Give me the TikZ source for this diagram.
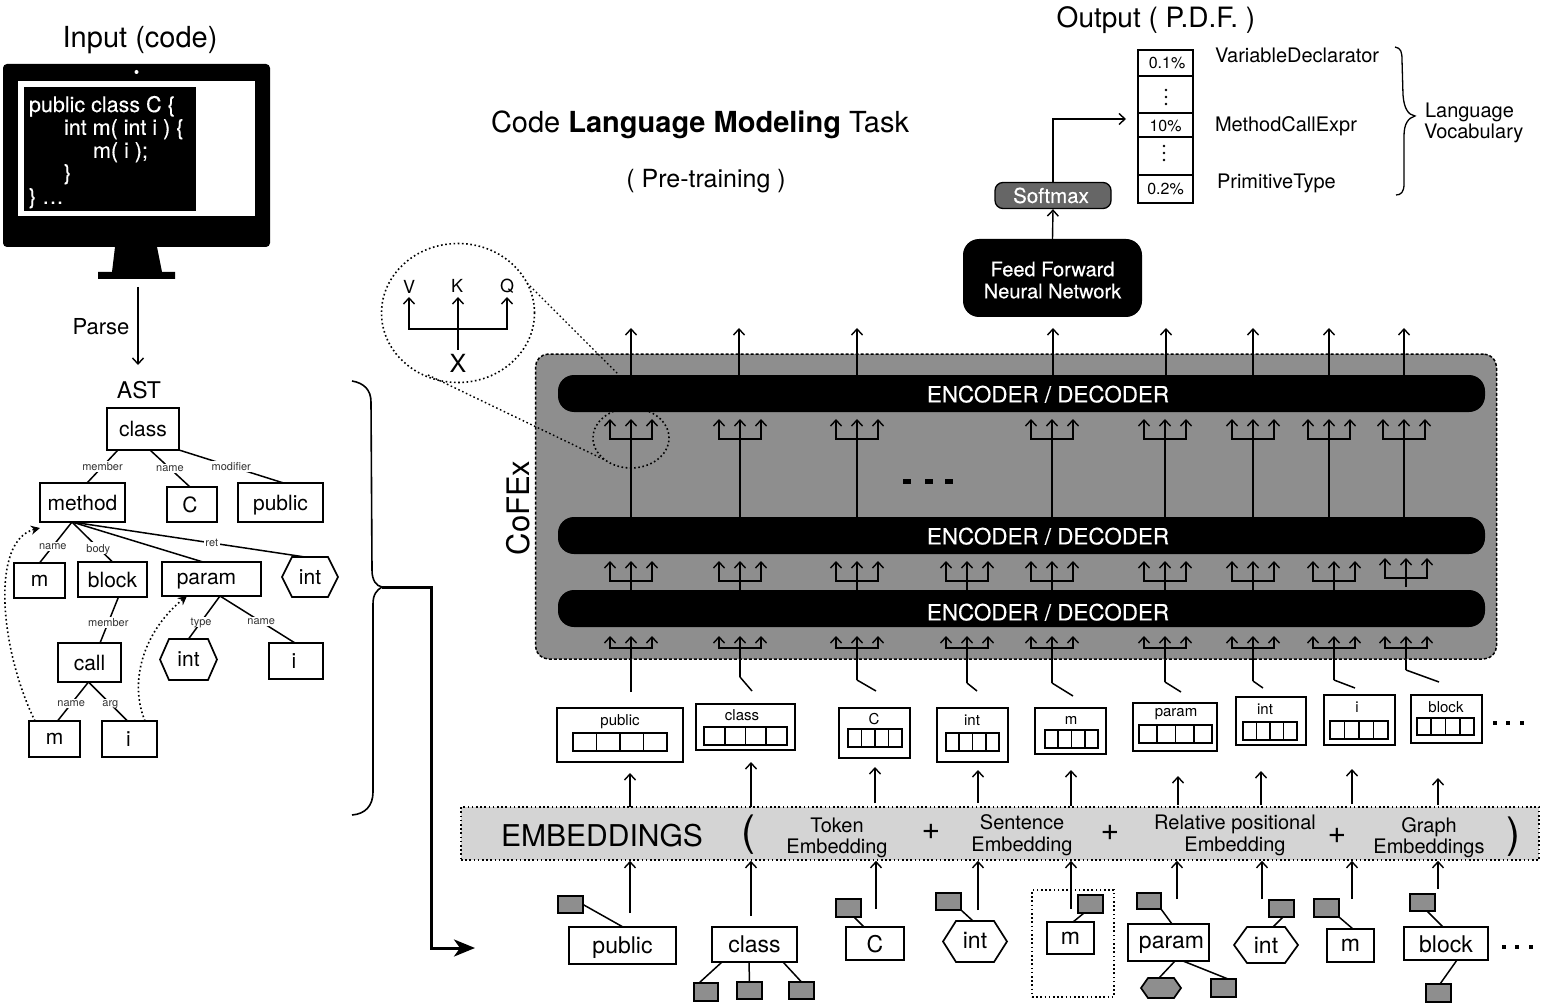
\documentclass[tikz,border=0pt]{standalone}
\usepackage{fontspec}
\setmainfont{TeX Gyre Heros}
\newfontfamily\whitefont[FakeBold=0.35]{TeX Gyre Heros}
\usetikzlibrary{arrows.meta,shapes.geometric,calc}
\newcommand\fs[1]{\fontsize{#1}{#1}\selectfont}
\definecolor{panelgray}{HTML}{8E8E8E}
\definecolor{bandgray}{HTML}{D4D4D4}
\definecolor{softgray}{HTML}{666666}
\definecolor{labelgray}{HTML}{333333}
\tikzset{
  x=1pt,y=-1pt,
  lw/.style={line width=1.7pt},
  nbox/.style={draw=black,lw,fill=none,inner sep=0pt,outer sep=0pt,text depth=0pt,font=\fs{#1}},
  nbox/.default=21,
  hexn/.style={inner sep=0pt,outer sep=0pt,text depth=0pt,font=\fs{#1}},
  hexn/.default=21,
  graybox/.style={draw=black,line width=1.7pt,fill=panelgray,inner sep=0pt,outer sep=0pt},
  txt/.style={inner sep=0pt,outer sep=0pt,text depth=0pt,font=\fs{#1}},
  arr/.style={line width=1.4pt,-{Straight Barb[length=6pt,width=11pt]}},
  darr/.style={line width=1.4pt,{Straight Barb[length=6pt,width=11pt]}-{Straight Barb[length=6pt,width=11pt]}},
  ln/.style={line width=1.5pt},
  elab/.style={fill=white,inner sep=1.5pt,text depth=0pt,text=labelgray,font=\fs{11}},
  dots/.style={line width=1.6pt,dash pattern=on 1.6pt off 2.6pt},
  dotarr/.style={line width=1.6pt,dash pattern=on 1.6pt off 2.6pt,-{Stealth[length=9pt,width=9pt]}},
  encbar/.style={fill=black,rounded corners=16pt,inner sep=0pt,outer sep=0pt,minimum width=927pt,minimum height=37pt},
}
% name x1 y1 x2 y2 size text
\newcommand\bx[7]{\node[nbox=#6,minimum width={#4-#2},minimum height={#5-#3}] (#1) at ({(#2+#4)/2},{(#3+#5)/2}) {#7};}
% name x1 y1 x2 y2 chamfer fill size text
\newcommand\hx[9]{\node[hexn=#8,minimum width={#4-#2},minimum height={#5-#3}] (#1) at ({(#2+#4)/2},{(#3+#5)/2}) {#9};
  \draw[lw,fill=#7] (#1.west) -- ([xshift=#6pt]#1.north west) -- ([xshift=-#6pt]#1.north east) -- (#1.east) -- ([xshift=-#6pt]#1.south east) -- ([xshift=#6pt]#1.south west) -- cycle;}
\newcommand\sq[5]{\node[graybox,minimum width={#4-#2},minimum height={#5-#3}] (#1) at ({(#2+#4)/2},{(#3+#5)/2}) {};}
% a dx b dx pos label
\newcommand\tedge[6]{\draw[ln] ([xshift=#2pt]#1.south) -- node[elab,pos=#5] {#6} ([xshift=#4pt]#3.north);}
\newcommand\tedgeN[4]{\draw[ln] ([xshift=#2pt]#1.south) -- ([xshift=#4pt]#3.north);}
% x tip bar start
\newcommand\fork[4]{\draw[arr] #4 -- (#1,#2);\draw[darr] (#1-21,#2) -- (#1-21,#3) -- (#1+21,#3) -- (#1+21,#2);}
\newcommand\vdotsat[2]{\fill (#1,#2-7) circle (1.4pt) (#1,#2) circle (1.4pt) (#1,#2+7) circle (1.4pt);}
\begin{document}
\begin{tikzpicture}
\useasboundingbox (0,0) rectangle (1542,1008);
% ---------- monitor
\node[txt=29] (inputT) at (140,37) {Input (code)};
\fill[rounded corners=4pt] (3,64) rectangle (270,247);
\fill (115,247) -- (157,247) -- (162,272) -- (175,272) -- (175,279) -- (98,279) -- (98,272) -- (112,272) -- cycle;
\fill[white] (136.5,72) circle (2pt);
\fill[white] (18,81) rectangle (255,216);
\fill[black] (24,87) rectangle (196,211);
\node[txt=21.5,text=white,anchor=west] (c1) at (29,104) {\whitefont public class C \{};
\node[txt=21.5,text=white,anchor=west] (c2) at (64,127) {\whitefont int m( int i ) \{};
\node[txt=21.5,text=white,anchor=west] (c3) at (93,150) {\whitefont m( i );};
\node[txt=21.5,text=white,anchor=west] (c4) at (64,172) {\whitefont \}};
\node[txt=21.5,text=white,anchor=west] (c5) at (29,196) {\whitefont \} \dots};
\coordinate (parseA) at (138,287);
\coordinate (parseB) at (138,365);
\draw[arr] (parseA) -- (parseB);
\node[txt=22] (parseT) at (101,326) {Parse};
\node[txt=23] (astT) at (139,390) {AST};
% ---------- AST
\bx{aclass}{107}{408}{179}{450}{21}{class}
\bx{amethod}{40}{483}{125}{522}{21}{method}
\bx{aC}{167}{487}{217}{522}{21}{C\kern4pt}
\bx{apublic}{238}{483}{323}{522}{21}{public}
\bx{am}{14}{563}{65}{598}{21}{m}
\bx{ablock}{78}{562}{147}{597}{21}{block}
\bx{aparam}{162}{562}{261}{596}{21}{param\kern10pt}
\hx{aint}{282}{557}{338}{597}{10}{none}{21}{int}
\bx{acall}{58}{643}{121}{682}{21}{call}
\hx{aintb}{160}{639}{217}{680}{9}{none}{21}{int}
\bx{ai}{269}{643}{323}{679}{21}{i\kern4pt}
\bx{amb}{29}{721}{80}{757}{21}{m}
\bx{aib}{102}{721}{157}{757}{21}{i\kern2pt}
\tedge{aclass}{-25}{amethod}{4.5}{.5}{member}
\tedge{aclass}{7}{aC}{-2}{.5}{name}
\tedge{aclass}{36}{apublic}{3}{.5}{modifier}
\tedge{amethod}{-10.5}{am}{0}{.59}{name}
\tedge{amethod}{-10.5}{ablock}{0}{.65}{body}
\tedgeN{amethod}{-10.5}{aparam}{-8.5}
\tedge{amethod}{-10.5}{aint}{-5}{.6}{ret}
\tedge{ablock}{6}{acall}{10.5}{.55}{member}
\tedge{aparam}{8.5}{aintb}{0}{.6}{type}
\tedge{aparam}{8.5}{ai}{-1}{.55}{name}
\tedge{acall}{-1}{amb}{3}{.56}{name}
\tedge{acall}{-1}{aib}{-2}{.56}{arg}
\draw[dotarr] ([xshift=6pt]amb.north west) .. controls (0,650) and (-10,540) .. ([yshift=-6pt]amethod.south west);
\draw[dotarr] ([xshift=43pt]aib.north west) .. controls (128,680) and (145,630) .. ([xshift=25pt]aparam.south west);
% ---------- big brace and arrow
\coordinate (braceTip) at (382,587);
\coordinate (bigEnd) at (475,948);
\draw[line width=1.6pt] (352,381) .. controls (364,383) and (371,390) .. (371,402) -- (372,570) .. controls (372,580) and (376,586) .. (braceTip);
\draw[line width=1.6pt] (braceTip) .. controls (377,590) and (373,594) .. (373,604) -- (373,792) .. controls (373,806) and (365,814) .. (352,815);
\draw[line width=3pt,-{Stealth[length=21pt,width=17pt,inset=6pt]}] (braceTip) -- (431,587) -- (431,948) -- (bigEnd);
% ---------- titles
\node[txt=29] (title) at (700,122) {Code \textbf{Language Modeling} Task};
\node[txt=25] (pre) at (706,178) {( Pre-training )};
% ---------- CoFEx panel
\node[draw=black,fill=panelgray,line width=1.5pt,dash pattern=on 3pt off 2pt,rounded corners=13pt,minimum width=961pt,minimum height=305pt,inner sep=0pt] (panel) at (1016,506.5) {};
\node[txt=31,rotate=90] (cofex) at (518,508) {CoFEx};
\node[encbar] (enca) at (1021.5,393.5) {};
\node[encbar] (encb) at (1021.5,535.5) {};
\node[encbar] (encc) at (1021.5,608.5) {};
\node[txt=22.4,text=white] (encaT) at (1048,394) {\whitefont ENCODER / DECODER};
\node[txt=22.4,text=white] (encbT) at (1048,536) {\whitefont ENCODER / DECODER};
\node[txt=22.4,text=white] (enccT) at (1048,612) {\whitefont ENCODER / DECODER};
% top outputs and top forks
\foreach \x in {631,739,857,1053,1166,1253,1329,1404}
  {\coordinate (o\x) at (\x,328);\draw[arr] (enca.north -| o\x) -- (o\x);}
\foreach \x in {631,740,857,1052,1165,1253,1329,1404}
  {\coordinate (f\x) at (\x,517);\fork{\x}{419}{439}{(f\x)}}
% middle forks
\foreach \x in {631,740,857,967,1052,1165,1253,1334}
  {\coordinate (g\x) at (\x,590);\fork{\x}{561}{581}{(g\x)}}
\coordinate (g1406) at (1406,587);\fork{1406}{558}{578}{(g1406)}
% bottom forks with their elbows
\foreach \x/\ey/\ex/\ez in {631/692/631/692,740/677/752/691,857/680/876/691,967/683/977/691,1052/683/1073/696,1165/682/1181/692,1253/681/1263/688,1334/680/1355/688,1406/670/1439/682}
  {\coordinate (h\x) at (\ex,\ez);\coordinate (k\x) at (\x,\ey);
   \draw[ln] (h\x) -- (k\x);\fork{\x}{636}{648}{(k\x)}}
% ellipsis in panel
\foreach \x in {907,929,949} \fill (\x-4,478.5) rectangle (\x+4,484);
% ---------- callout
\node[draw=black,ellipse,dots,minimum width=153pt,minimum height=139pt,inner sep=0pt] (bigell) at (458,313) {};
\node[draw=black,ellipse,dots,minimum width=76pt,minimum height=60pt,inner sep=0pt] (smallell) at (631,438) {};
\draw[dots,line width=1.4pt] (527,283) -- (619,375);
\draw[dots,line width=1.4pt] (428,375) -- (605,460);
\node[txt=18] (vT) at (409,287) {V};
\node[txt=18] (kT) at (457,286) {K};
\node[txt=18] (qT) at (507,286) {Q};
\node[txt=25] (xT) at (458,363) {X};
\draw[darr] (vT.south |- 0,297) -- (vT.south |- 0,329) -- (qT.south |- 0,329) -- (qT.south |- 0,297);
\draw[arr] (xT.north) ++(0,-4) -- (458,297);
% ---------- output
\node[txt=28] (outT) at (1156,17) {Output ( P.D.F. )};
\bx{ta}{1138}{50}{1193}{76}{16}{\hspace{3pt}0.1\%}
\bx{tb}{1138}{76}{1193}{113}{16}{}
\bx{tc}{1138}{113}{1193}{137}{16}{\raisebox{-2pt}{10\%}}
\bx{td}{1138}{137}{1193}{175}{16}{}
\bx{te}{1138}{175}{1193}{203}{16}{0.2\%}
\vdotsat{1166}{97}
\vdotsat{1164}{153}
\node[txt=20,anchor=west] (vd) at (1215,55) {VariableDeclarator};
\node[txt=20,anchor=west] (mc) at (1215,124) {MethodCallExpr};
\node[txt=20,anchor=west] (pt) at (1217,181) {PrimitiveType};
\draw[line width=1.3pt] (1395,47) .. controls (1401,48) and (1402,52) .. (1402,60) -- (1403,95) .. controls (1404,108) and (1408,115) .. (1415,116) .. controls (1408,118) and (1404,124) .. (1404,136) -- (1404,184) .. controls (1404,192) and (1401,195) .. (1396,195);
\node[txt=20,anchor=west] (lang) at (1425,110) {Language};
\node[txt=20,anchor=west] (voc) at (1424,131) {Vocabulary};
\node[draw=black,fill=softgray,line width=1.3pt,rounded corners=8pt,minimum width=116pt,minimum height=26pt,inner sep=0pt,text=white,font=\fs{20.5}] (soft) at (1053,195.5) {\whitefont Softmax\kern4pt};
\node[fill=black,rounded corners=16pt,minimum width=179pt,minimum height=78pt,inner sep=0pt] (ffnn) at (1052.5,278) {};
\node[txt=20,text=white] (ffa) at (1052.5,269) {\whitefont Feed Forward};
\node[txt=20,text=white] (ffb) at (1052.5,291) {\whitefont Neural Network};
\draw[arr] (ffnn.north) -- (soft.south);
\coordinate (pdfIn) at (1126,119);
\draw[arr] (soft.north) -- (soft.north |- pdfIn) -- (pdfIn);
% ---------- embedding vectors
\foreach \n/\a/\b/\c/\d/\t/\lx/\ly/\e/\f/\g/\h in {
  p/557/708/683/762/public/620/720/573/733/667/751,
  c/696/704/795/750/class/742/715/704/727/787/745,
  k/839/708/910/758/C/874/719/848/729/902/747,
  t/937/708/1008/762/int/972/720/946/733/999/751,
  m/1035/708/1106/754/m/1071/720/1045/730/1098/748,
  r/1133/703/1217/751/param/1176/712/1139/725/1212/743,
  u/1236/697/1306/745/int/1265/709/1243/722/1297/740,
  i/1324/695/1395/745/i/1357/707/1330/721/1388/739,
  b/1411/695/1482/743/block/1446/707/1417/718/1474/735}{
  \bx{ev\n}{\a}{\b}{\c}{\d}{15}{}
  \node[txt=15] (evt\n) at (\lx,\ly) {\t};
  \bx{evc\n}{\e}{\f}{\g}{\h}{15}{}
  \draw[lw] ({\e+(\g-\e)*.25},\f) -- ({\e+(\g-\e)*.25},\h) ({\e+(\g-\e)*.5},\f) -- ({\e+(\g-\e)*.5},\h) ({\e+(\g-\e)*.75},\f) -- ({\e+(\g-\e)*.75},\h);
}
\foreach \x in {1495,1508,1522} \fill (\x-1.8,721.2) rectangle (\x+1.8,724.8);
% ---------- embeddings band
\node[fill=bandgray,draw=black,dots,minimum width=1078pt,minimum height=53pt,inner sep=0pt] (band) at (1000,833.5) {};
\node[txt=30] (embT) at (602,835) {EMBEDDINGS};
\node[txt=42] (lp) at (748,830) {(};
\node[txt=42] (rp) at (1513,832) {)};
\node[txt=20] (t1a) at (837,825) {Token};
\node[txt=20] (t1b) at (837,846) {Embedding};
\node[txt=32] (pl1) at (931,832) {+};
\node[txt=20] (t2a) at (1022,822) {Sentence};
\node[txt=20] (t2b) at (1022,844) {Embedding};
\node[txt=32] (pl2) at (1110,833) {+};
\node[txt=20] (t3a) at (1235,822) {Relative positional};
\node[txt=20] (t3b) at (1235,844) {Embedding};
\node[txt=32] (pl3) at (1337,836) {+};
\node[txt=20] (t4a) at (1429,825) {Graph};
\node[txt=20] (t4b) at (1429,846) {Embeddings};
% arrows band -> vectors
\foreach \x/\tip/\s in {630/773/807,751/762/807,875/767/803,978/770/803,1071/770/806,1178/776/805,1261/771/805,1352/769/804,1438/778/805}
  {\coordinate (v\x) at (\x,\tip);\coordinate (w\x) at (\x,\s);\draw[arr] (w\x) -- (v\x);}
% arrows tokens -> band
\foreach \x/\s in {630/913,751/916,876/909,978/910,1071/909,1177/899,1262/899,1352/899,1438/889}
  {\coordinate (z\x) at (\x,\s);\draw[arr] (z\x) -- (band.south -| z\x);}
% ---------- token row
\bx{bpub}{569}{927}{676}{964}{23}{public}
\sq{bpubs}{558}{896}{583}{913}
\draw[ln] (bpubs.east) -- ([xshift=.5pt]bpub.north);
\bx{bcla}{712}{927}{797}{962}{23}{class}
\sq{bclaa}{694}{983}{718}{1001}
\sq{bclab}{737}{982}{762}{999}
\sq{bclac}{789}{982}{814}{999}
\draw[ln] ([xshift=-32.5pt]bcla.south) -- ([xshift=-7pt]bclaa.north);
\draw[ln] ([xshift=-5.5pt]bcla.south) -- (bclab.north);
\draw[ln] ([xshift=28.5pt]bcla.south) -- (bclac.north);
\bx{bc}{846}{927}{904}{960}{23}{C}
\sq{bcs}{836}{899}{861}{917}
\draw[ln] ([xshift=5.5pt]bcs.south) -- ([xshift=-11pt]bc.north);
\hx{bint}{943}{921}{1007}{962}{13}{none}{23}{\raisebox{2pt}{int}}
\sq{bints}{936}{893}{961}{910}
\draw[ln] (bints.south east) -- ([xshift=-2pt]bint.north);
\node[draw=black,dots,line width=1.3pt,minimum width=82pt,minimum height=107pt,inner sep=0pt] (dotbox) at (1073,943.5) {};
\bx{bm}{1047}{922}{1094}{954}{23}{m}
\sq{bms}{1078}{895}{1103}{913}
\draw[ln] ([xshift=-6.5pt]bms.south) -- ([xshift=2.5pt]bm.north);
\bx{bpar}{1128}{924}{1209}{961}{23}{\kern6pt param}
\sq{bpars}{1137}{893}{1161}{909}
\draw[ln] (bpars.south east) -- ([xshift=3.5pt]bpar.north);
\hx{bparh}{1141}{978}{1181}{998}{7}{panelgray}{23}{}
\sq{bparq}{1211}{979}{1236}{997}
\draw[ln] ([xshift=6.5pt]bpar.south) -- ([xshift=-2pt]bparh.north);
\draw[ln] ([xshift=14.5pt]bpar.south) -- ([xshift=4.5pt]bparq.north);
\hx{bintb}{1234}{927}{1298}{963}{13}{none}{23}{int}
\sq{bintbs}{1269}{900}{1294}{917}
\draw[ln] ([xshift=1.5pt]bintbs.south) -- ([xshift=7pt]bintb.north);
\bx{bmb}{1327}{929}{1374}{962}{23}{m}
\sq{bmbs}{1314}{899}{1339}{917}
\draw[ln] (bmbs.south east) -- ([xshift=2.5pt]bmb.north);
\bx{bblk}{1404}{927}{1488}{960}{23}{\raisebox{-2pt}{block}}
\sq{bblks}{1410}{894}{1435}{911}
\sq{bblkq}{1426}{984}{1451}{1002}
\draw[ln] ([xshift=4.5pt]bblks.south) -- ([xshift=-3pt]bblk.north);
\draw[ln] ([xshift=11pt]bblk.south) -- ([xshift=1.5pt]bblkq.north);
\foreach \x in {1504,1517,1531} \fill (\x-1.8,945.2) rectangle (\x+1.8,948.8);
\end{tikzpicture}
\end{document}
